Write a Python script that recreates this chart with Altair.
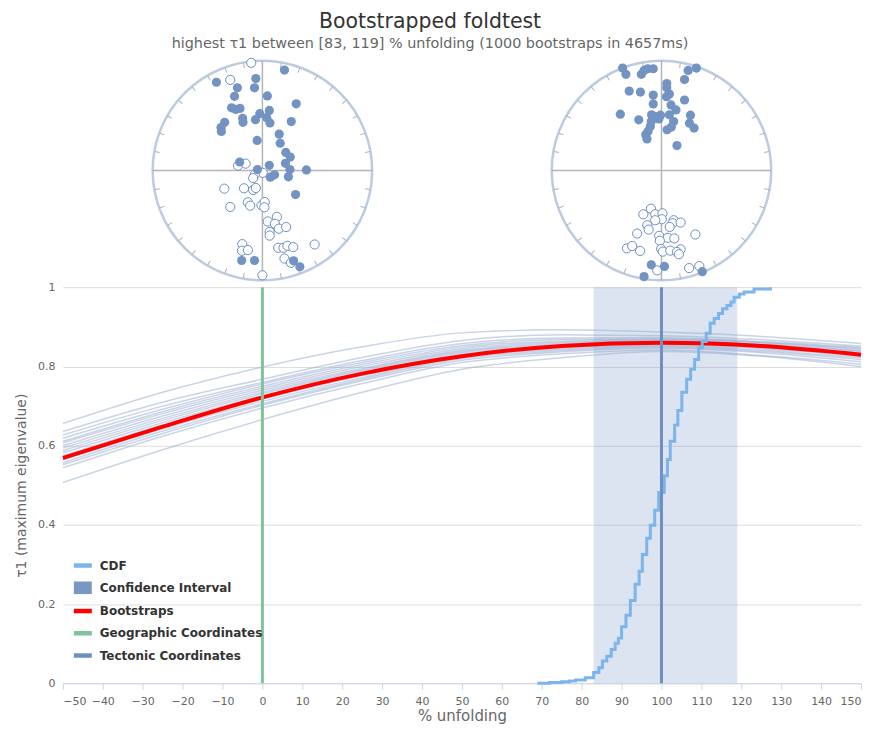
import altair as alt
import pandas as pd
import numpy as np

# ------------------------------------------------------------------ data
x_grid = [-50, -25, 0, 25, 50, 75, 100, 125, 150]
mean_tau = [0.569, 0.648, 0.722, 0.782, 0.826, 0.852, 0.860, 0.852, 0.830]

bootstrap_tau = [
    [0.656, 0.735, 0.799, 0.850, 0.885, 0.893, 0.887, 0.876, 0.858],
    [0.636, 0.710, 0.768, 0.823, 0.866, 0.880, 0.878, 0.868, 0.852],
    [0.627, 0.700, 0.760, 0.815, 0.858, 0.872, 0.873, 0.863, 0.848],
    [0.619, 0.692, 0.756, 0.810, 0.853, 0.868, 0.870, 0.861, 0.846],
    [0.611, 0.686, 0.750, 0.805, 0.849, 0.864, 0.868, 0.860, 0.843],
    [0.607, 0.681, 0.745, 0.800, 0.845, 0.861, 0.866, 0.857, 0.840],
    [0.600, 0.675, 0.740, 0.795, 0.841, 0.858, 0.864, 0.855, 0.838],
    [0.594, 0.669, 0.735, 0.792, 0.838, 0.855, 0.862, 0.852, 0.835],
    [0.588, 0.664, 0.731, 0.789, 0.835, 0.852, 0.860, 0.850, 0.832],
    [0.582, 0.658, 0.725, 0.784, 0.831, 0.849, 0.858, 0.847, 0.829],
    [0.575, 0.652, 0.718, 0.777, 0.827, 0.846, 0.856, 0.845, 0.826],
    [0.565, 0.643, 0.712, 0.772, 0.824, 0.843, 0.853, 0.841, 0.822],
    [0.557, 0.637, 0.706, 0.768, 0.820, 0.840, 0.850, 0.838, 0.818],
    [0.552, 0.631, 0.702, 0.764, 0.816, 0.837, 0.847, 0.835, 0.812],
    [0.544, 0.624, 0.695, 0.757, 0.810, 0.832, 0.842, 0.828, 0.806],
    [0.507, 0.590, 0.666, 0.735, 0.793, 0.822, 0.838, 0.826, 0.800],
]

cdf_x = [68.9, 72.0, 75.0, 77.0, 78.5, 80.9, 83.0, 84.3, 85.2, 86.3, 87.4, 88.4,
         89.2, 90.0, 91.1, 92.2, 93.4, 94.4, 95.2, 96.3, 97.2, 98.3, 99.3,
         100.7, 101.5, 102.2, 103.3, 104.1, 105.1, 106.3, 107.3, 108.3, 109.3,
         110.2, 111.2, 112.2, 113.2, 114.3, 115.3, 116.4, 117.4, 118.2, 119.5,
         120.7, 123.2, 127.3]
cdf_y = [0.0, 0.002, 0.004, 0.006, 0.008, 0.014, 0.027, 0.039, 0.056, 0.068,
         0.085, 0.101, 0.114, 0.143, 0.172, 0.209, 0.250, 0.283, 0.325, 0.366,
         0.399, 0.437, 0.482, 0.524, 0.565, 0.611, 0.652, 0.689, 0.735, 0.768,
         0.793, 0.818, 0.847, 0.863, 0.884, 0.909, 0.921, 0.934, 0.946, 0.954,
         0.963, 0.975, 0.983, 0.988, 0.996, 1.0]

ci_bounds = [83, 119]
geographic_x = 0
tectonic_x = 100

# stereonet projected directions (unit-circle coordinates)
geo_filled = [(0.201, 0.916), (-0.419, 0.805), (-0.060, 0.838), (-0.228, 0.754), (-0.072, 0.754),
              (-0.254, 0.677), (0.045, 0.680), (0.308, 0.608), (-0.281, 0.572), (-0.243, 0.557),
              (-0.204, 0.566), (-0.024, 0.518), (0.063, 0.548), (-0.180, 0.476), (-0.177, 0.440),
              (-0.063, 0.464), (0.039, 0.482), (0.069, 0.434), (0.263, 0.446), (-0.344, 0.440),
              (-0.377, 0.392), (-0.374, 0.356), (0.153, 0.332), (0.162, 0.249), (-0.048, 0.275),
              (0.213, 0.165), (0.254, 0.123), (0.210, 0.066), (0.063, 0.048), (-0.207, 0.078),
              (-0.045, 0.009), (0.251, 0.009), (0.401, 0.006), (0.072, -0.060), (0.111, -0.039),
              (0.237, -0.057), (0.302, -0.219), (-0.189, -0.820), (-0.072, -0.820), (0.284, -0.823),
              (0.341, -0.877)]
geo_open = [(-0.102, 0.982), (-0.293, 0.826), (-0.222, 0.045), (-0.153, 0.063), (0.003, -0.021),
            (-0.069, -0.036), (-0.084, -0.069), (-0.347, -0.165), (-0.168, -0.162), (-0.084, -0.177),
            (-0.060, -0.159), (-0.132, -0.290), (-0.111, -0.320), (-0.293, -0.332), (-0.009, -0.317),
            (0.021, -0.287), (0.018, -0.335), (0.132, -0.422), (0.048, -0.464), (0.114, -0.485),
            (0.150, -0.530), (0.216, -0.515), (0.066, -0.560), (0.066, -0.593), (-0.183, -0.671),
            (-0.186, -0.731), (-0.132, -0.725), (0.144, -0.704), (0.192, -0.704), (0.228, -0.686),
            (0.281, -0.698), (0.476, -0.674), (0.201, -0.802), (0.260, -0.841), (0.0, -0.955)]
tec_filled = [(-0.354, 0.934), (-0.324, 0.877), (-0.183, 0.877), (-0.159, 0.913), (-0.126, 0.928),
              (-0.075, 0.928), (0.243, 0.913), (0.318, 0.934), (0.210, 0.829), (0.048, 0.793),
              (0.048, 0.754), (-0.294, 0.724), (-0.192, 0.715), (0.072, 0.697), (0.045, 0.673),
              (-0.075, 0.688), (0.210, 0.643), (-0.075, 0.607), (0.087, 0.598), (0.132, 0.553),
              (-0.375, 0.514), (-0.090, 0.508), (-0.054, 0.492), (-0.009, 0.505), (0.072, 0.508),
              (0.264, 0.505), (-0.207, 0.462), (-0.093, 0.447), (-0.024, 0.471), (0.111, 0.447),
              (0.255, 0.432), (0.297, 0.387), (-0.102, 0.402), (-0.123, 0.357), (-0.144, 0.327),
              (0.051, 0.372), (0.090, 0.396), (-0.132, 0.288), (0.141, 0.228), (-0.093, -0.859),
              (0.027, -0.874), (-0.159, -0.967), (0.372, -0.922)]
tec_open = [(-0.096, -0.348), (-0.165, -0.399), (-0.057, -0.399), (0.009, -0.390), (0.003, -0.444),
            (0.111, -0.453), (0.102, -0.480), (0.174, -0.474), (-0.057, -0.453), (-0.129, -0.498),
            (-0.117, -0.538), (0.075, -0.514), (-0.222, -0.574), (-0.021, -0.595), (0.057, -0.613),
            (0.117, -0.619), (-0.015, -0.640), (0.309, -0.583), (-0.315, -0.709), (-0.267, -0.688),
            (-0.195, -0.733), (-0.003, -0.715), (0.012, -0.739), (0.081, -0.730), (0.174, -0.718),
            (0.141, -0.742), (0.159, -0.763), (-0.039, -0.910), (0.252, -0.889), (0.345, -0.871)]

legend_names = ["CDF", "Confidence Interval", "Bootstraps",
                "Geographic Coordinates", "Tectonic Coordinates"]
legend_colors = ["#7cb5ec", "#7a97c3", "#ff0000", "#7fc29b", "#6f8fc0"]

# ------------------------------------------------------------------ layout
FONT = "DejaVu Sans"
W = 800
X_MIN, X_MAX = -50, 150
PX_X = W / (X_MAX - X_MIN)
Y_PX = 397.0
Y_TOP = 1.5825
H = int(round(Y_TOP * Y_PX))
NET_Y = 1.295
NET_R = 110.0
RX = NET_R / PX_X
RY = NET_R / Y_PX
LINE_SYM = "M-1,-0.25H1V0.25H-1Z"
BOX_SYM = "M-1,-0.7H1V0.7H-1Z"
legend_shapes = [LINE_SYM, BOX_SYM, LINE_SYM, LINE_SYM, LINE_SYM]

xs = alt.Scale(domain=[X_MIN, X_MAX], nice=False, zero=False)
ys = alt.Scale(domain=[0, Y_TOP], nice=False, zero=False)

x_axis = alt.Axis(values=list(range(-50, 151, 10)), grid=False, domainColor="#ccd6eb",
                  tickColor="#ccd6eb", tickSize=6, labelColor="#666666", labelFontSize=11,
                  labelFont=FONT, labelPadding=6, labelFlush=True, title="% unfolding",
                  titleColor="#666666", titleFontSize=15, titleFont=FONT,
                  titleFontWeight="normal", titlePadding=2)
y_axis = alt.Axis(values=[0, 0.2, 0.4, 0.6, 0.8, 1], format="~g", grid=True,
                  gridColor="#dddddd", domain=False, ticks=False, labelColor="#666666",
                  labelFontSize=11, labelFont=FONT, labelPadding=8,
                  title="τ1 (maximum eigenvalue)", titleColor="#666666", titleFontSize=14,
                  titleFont=FONT, titleFontWeight="normal", titlePadding=9,
                  titleY=H - 0.5 * Y_PX)


def X(field="x"):
    return alt.X(f"{field}:Q", scale=xs, axis=x_axis)


def Y(field="y"):
    return alt.Y(f"{field}:Q", scale=ys, axis=y_axis)


# ------------------------------------------------------------------ frames
ci_df = pd.DataFrame({"x": [ci_bounds[0]], "x2": [ci_bounds[1]], "y": [0.0], "y2": [1.0]})

boot_rows = []
for i, run in enumerate(bootstrap_tau):
    for xv, yv in zip(x_grid, run):
        boot_rows.append({"run": i, "x": xv, "y": yv})
boot_df = pd.DataFrame(boot_rows)

mean_df = pd.DataFrame({"x": x_grid, "y": mean_tau})
cdf_df = pd.DataFrame({"x": cdf_x, "y": cdf_y})
geo_df = pd.DataFrame({"x": [geographic_x], "y": [0.0], "y2": [1.0]})
tec_df = pd.DataFrame({"x": [tectonic_x], "y": [0.0], "y2": [1.0]})
# legend entries: placed outside the x domain and clipped, only the legend shows
legend_df = pd.DataFrame({"series": legend_names, "x": [X_MIN - 100] * 5, "y": [0.0] * 5})

centers = [geographic_x, tectonic_x]
net_df = pd.DataFrame({"x": centers, "y": [NET_Y, NET_Y]})

cross_rows = []
for cx in centers:
    cross_rows.append({"x": cx - RX, "x2": cx + RX, "y": NET_Y, "y2": NET_Y})
    cross_rows.append({"x": cx, "x2": cx, "y": NET_Y - RY, "y2": NET_Y + RY})
cross_df = pd.DataFrame(cross_rows)

tick_rows = []
for cx in centers:
    for a in range(0, 360, 10):
        t = np.radians(a)
        r = NET_R - 3
        tick_rows.append({"x": cx + r * np.sin(t) / PX_X,
                          "y": NET_Y + r * np.cos(t) / Y_PX,
                          "ang": (90 + a) % 360})
tick_df = pd.DataFrame(tick_rows)


def net_points(center, pts):
    return pd.DataFrame({"x": [center + u * RX for u, v in pts],
                         "y": [NET_Y + v * RY for u, v in pts]})


open_df = pd.concat([net_points(geographic_x, geo_open), net_points(tectonic_x, tec_open)])
filled_df = pd.concat([net_points(geographic_x, geo_filled), net_points(tectonic_x, tec_filled)])

# ------------------------------------------------------------------ layers
ci_layer = alt.Chart(ci_df).mark_rect(color="#7b9cc9", opacity=0.27).encode(
    x=X(), x2="x2:Q", y=Y(), y2="y2:Q")

boot_layer = alt.Chart(boot_df).mark_line(
    color="#95a9cf", opacity=0.5, strokeWidth=1.5, interpolate="monotone").encode(
    x=X(), y=Y(), detail="run:N")

mean_layer = alt.Chart(mean_df).mark_line(
    color="#ff0000", strokeWidth=4, interpolate="monotone").encode(x=X(), y=Y())

cdf_layer = alt.Chart(cdf_df).mark_line(
    color="#7cb5ec", strokeWidth=3, interpolate="step-after").encode(x=X(), y=Y())

geo_layer = alt.Chart(geo_df).mark_rule(color="#7fc29b", strokeWidth=3).encode(
    x=X(), y=Y(), y2="y2:Q")
tec_layer = alt.Chart(tec_df).mark_rule(color="#6f8fc0", strokeWidth=3).encode(
    x=X(), y=Y(), y2="y2:Q")

net_layer = alt.Chart(net_df).mark_point(
    shape="circle", size=(2 * NET_R) ** 2, filled=False, color="#bccbe0",
    strokeWidth=2.5, opacity=1).encode(x=X(), y=Y())

cross_layer = alt.Chart(cross_df).mark_rule(color="#b5b5b5", strokeWidth=1.5).encode(
    x=X(), x2="x2:Q", y=Y(), y2="y2:Q")

tick_layer = alt.Chart(tick_df).mark_point(
    shape="stroke", size=25, filled=False, color="#b0b0b0", strokeWidth=1, opacity=1).encode(
    x=X(), y=Y(), angle=alt.Angle("ang:Q", scale=None))

open_layer = alt.Chart(open_df).mark_point(
    shape="circle", size=85, filled=True, fill="#ffffff", stroke="#6c8ec3",
    strokeWidth=1, opacity=1).encode(x=X(), y=Y())

filled_layer = alt.Chart(filled_df).mark_point(
    shape="circle", size=85, filled=True, color="#7393c2", opacity=1).encode(x=X(), y=Y())

legend_layer = alt.Chart(legend_df).mark_point(filled=True, opacity=1, clip=True).encode(
    x=X(), y=Y(),
    color=alt.Color("series:N", scale=alt.Scale(domain=legend_names, range=legend_colors),
                    title=None,
                    legend=alt.Legend(
                        orient="none", legendX=11, legendY=501, direction="vertical",
                        symbolSize=324, symbolStrokeWidth=0, symbolOpacity=1,
                        labelFont=FONT, labelFontSize=12, labelFontWeight="bold",
                        labelColor="#333333", labelOffset=8, labelLimit=400,
                        rowPadding=7.3, padding=0)),
    shape=alt.Shape("series:N", scale=alt.Scale(domain=legend_names, range=legend_shapes),
                    title=None))

chart = alt.layer(
    ci_layer, boot_layer, mean_layer, cdf_layer, geo_layer, tec_layer,
    net_layer, cross_layer, tick_layer, open_layer, filled_layer, legend_layer
).properties(
    width=W, height=H,
    padding={"left": 6, "top": 3, "right": 0, "bottom": 0},
    title=alt.TitleParams(
        text="Bootstrapped foldtest",
        subtitle="highest τ1 between [83, 119] % unfolding (1000 bootstraps in 4657ms)",
        font=FONT, fontSize=20.5, fontWeight="normal", color="#333333",
        subtitleFont=FONT, subtitleFontSize=14.4, subtitleColor="#666666",
        anchor="middle", offset=5, subtitlePadding=5, dx=-32)
).configure_view(stroke=None)

chart.save("out.html", embed_options={"renderer": "svg", "actions": False})
